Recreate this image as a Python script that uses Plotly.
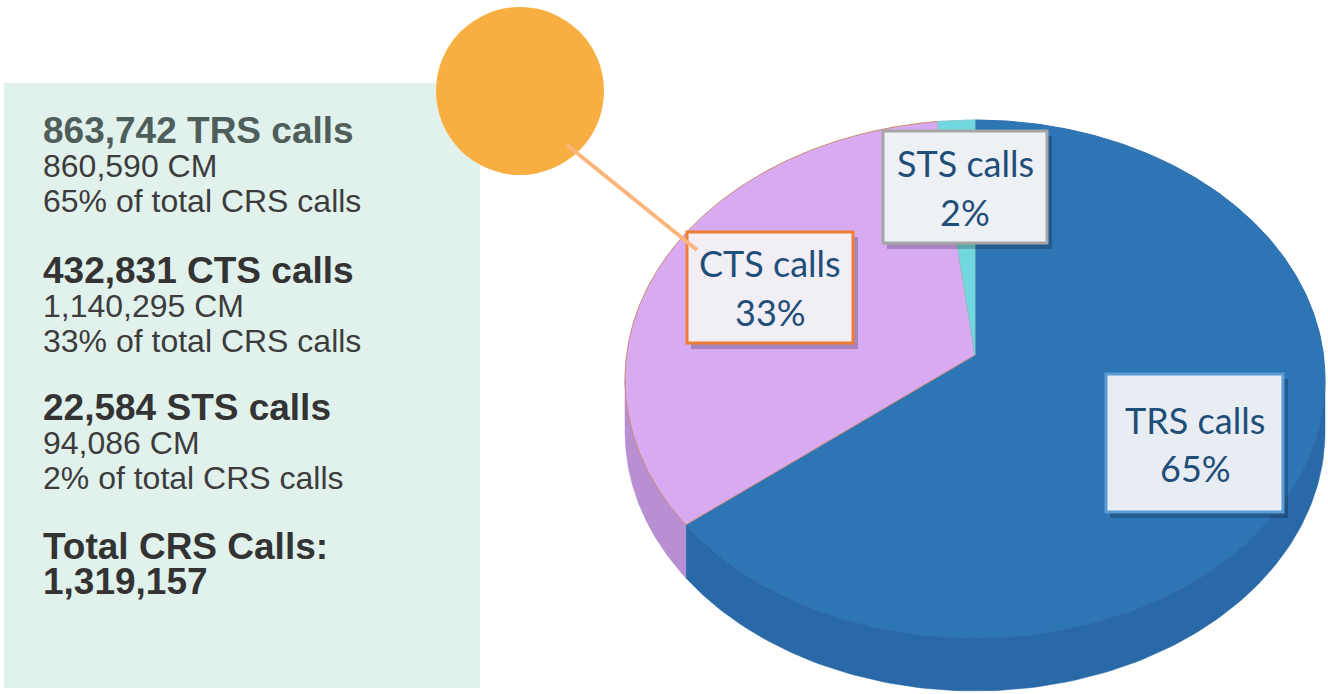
import numpy as np
import plotly.graph_objects as go

# ---------------- data ----------------
categories = ["TRS calls", "CTS calls", "STS calls"]
calls = [863742, 432831, 22584]
cm_minutes = [860590, 1140295, 94086]
pct_labels = [65, 33, 2]
total_calls = 1319157

# ---------------- style ----------------
top_colors = ["#2E75B6", "#D8AAF2", "#72D8DF"]
side_colors = ["#2A69A8", "#B98FD3", "#5FBFC6"]
edge_colors = ["#2E6FAE", "#C98A70", "#7FC8CE"]
box_border = ["#5B9BD5", "#ED7D31", "#A5A5A5"]
box_fill = ["#E8EDF3", "#F1EEF5", "#EDF0F4"]
label_color = "#1F4E79"

W, H = 1328, 694
CX, CY, RX, RY = 975, 379, 350, 259
APEX_Y = 355
DEPTH = 53


def rim(theta_deg, dy=0.0):
    t = np.radians(theta_deg)
    return CX + RX * np.sin(t), CY - RY * np.cos(t) + dy


fig = go.Figure()

# angles from values (clockwise from 12 o'clock)
vals = np.array(calls, dtype=float)
frac = vals / vals.sum()
ends = np.cumsum(frac) * 360.0
starts = np.concatenate([[0.0], ends[:-1]])

# side walls (front half only)
for i in range(len(categories)):
    a, b = max(starts[i], 90.0), min(ends[i], 270.0)
    if b <= a:
        continue
    th = np.linspace(a, b, 120)
    xs_t, ys_t = rim(th)
    xs_b, ys_b = rim(th[::-1], DEPTH)
    fig.add_trace(go.Scatter(
        x=np.concatenate([xs_t, xs_b, xs_t[:1]]),
        y=np.concatenate([ys_t, ys_b, ys_t[:1]]),
        mode="lines", fill="toself", fillcolor=side_colors[i],
        line=dict(color=side_colors[i], width=0.5), hoverinfo="skip"))

# top faces
for i in range(len(categories)):
    th = np.linspace(starts[i], ends[i], max(int((ends[i] - starts[i]) * 2), 6))
    xs, ys = rim(th)
    fig.add_trace(go.Scatter(
        x=np.concatenate([[CX], xs, [CX]]),
        y=np.concatenate([[APEX_Y], ys, [APEX_Y]]),
        mode="lines", fill="toself", fillcolor=top_colors[i],
        line=dict(color=edge_colors[i], width=1), hoverinfo="skip",
        name=categories[i]))

shapes = []
annotations = []

# left info panel
shapes.append(dict(type="rect", xref="x", yref="y", x0=4, x1=480, y0=83, y1=688,
                   fillcolor="#E1F2EC", line=dict(width=0), layer="below"))

# orange circle and connector
shapes.append(dict(type="circle", xref="x", yref="y", x0=436, x1=604, y0=7, y1=175,
                   fillcolor="#F9AE42", line=dict(width=0), layer="above"))

# label boxes
box_geom = [
    (1106, 1283, 374, 512, 1195, 420, 468),   # TRS
    (687, 853, 232, 343, 770, 263, 312),      # CTS
    (883, 1047, 131, 243, 965, 163, 212),     # STS
]
for i, (x0, x1, y0, y1, tx, ty1, ty2) in enumerate(box_geom):
    shapes.append(dict(type="rect", xref="x", yref="y", x0=x0 + 4, x1=x1 + 5, y0=y0 + 5, y1=y1 + 6,
                       fillcolor="rgba(0,0,0,0.22)", line=dict(width=0), layer="above"))
    shapes.append(dict(type="rect", xref="x", yref="y", x0=x0, x1=x1, y0=y0, y1=y1,
                       fillcolor=box_fill[i], line=dict(color=box_border[i], width=3), layer="above"))
    annotations.append(dict(x=tx, y=ty1, xref="x", yref="y", text=categories[i], showarrow=False,
                            xanchor="center", yanchor="middle",
                            font=dict(family="Lato", size=36, color=label_color)))
    annotations.append(dict(x=tx, y=ty2, xref="x", yref="y", text=f"{pct_labels[i]}%", showarrow=False,
                            xanchor="center", yanchor="middle",
                            font=dict(family="Lato", size=36, color=label_color)))

shapes.append(dict(type="line", xref="x", yref="y", x0=567, y0=145, x1=697, y1=250,
                   line=dict(color="#FBB57A", width=4), layer="above"))

# left panel text
FAM = "Liberation Sans, Arial"
body_font = dict(family=FAM, size=32, color="#3C3C3C")
head_size = 37
left_lines = []
short = ["TRS", "CTS", "STS"]
head_y = [130, 270, 407]
for i in range(3):
    left_lines.append((head_y[i], f"<b>{calls[i]:,} {short[i]} calls</b>",
                       dict(family=FAM, size=head_size,
                            color="#4E5E5A" if i == 0 else "#333333")))
    left_lines.append((head_y[i] + 36, f"{cm_minutes[i]:,} CM", body_font))
    left_lines.append((head_y[i] + 71, f"{pct_labels[i]}% of total CRS calls", body_font))
left_lines.append((546, "<b>Total CRS Calls:</b>", dict(family=FAM, size=head_size, color="#333333")))
left_lines.append((581, f"<b>{total_calls:,}</b>", dict(family=FAM, size=head_size, color="#333333")))
for y, txt, f in left_lines:
    annotations.append(dict(x=41, y=y, xref="x", yref="y", text=txt, showarrow=False,
                            xanchor="left", yanchor="middle", font=f))

fig.update_layout(
    width=W, height=H, margin=dict(l=0, r=0, t=0, b=0),
    paper_bgcolor="white", plot_bgcolor="white", showlegend=False,
    xaxis=dict(range=[0, W], visible=False, fixedrange=True),
    yaxis=dict(range=[H, 0], visible=False, fixedrange=True),
    shapes=shapes, annotations=annotations,
)

fig.write_html("out.html", config={"displayModeBar": False},
               post_script="document.body.style.margin='0';document.body.style.overflow='hidden';")
